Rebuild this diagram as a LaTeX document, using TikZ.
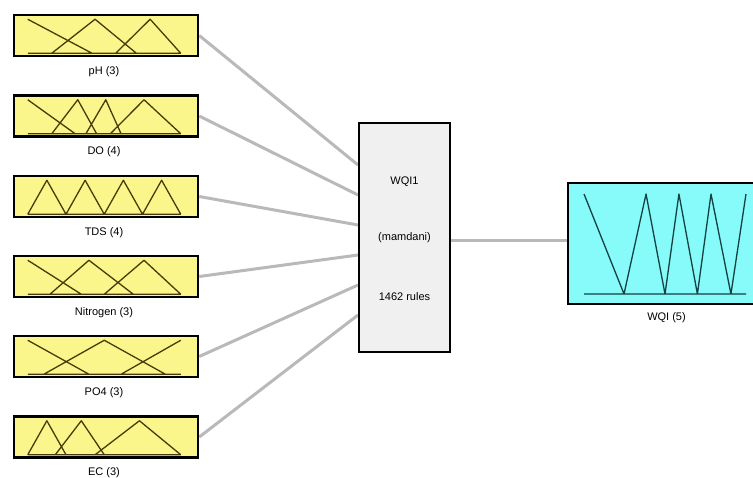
\documentclass[tikz,border=0pt]{standalone}
\usepackage{fontspec}
\setmainfont{Liberation Sans}
\usetikzlibrary{calc,backgrounds}

\definecolor{inyellow}{RGB}{250,246,140}
\definecolor{outcyan}{RGB}{135,250,250}
\definecolor{rulegray}{RGB}{240,240,240}
\definecolor{linkgray}{RGB}{185,185,185}
\definecolor{mfolive}{RGB}{70,60,10}
\definecolor{mfteal}{RGB}{20,65,65}

\tikzset{
  inbox/.style={draw, line width=2.5pt, fill=inyellow, minimum width=184pt, minimum height=41pt, inner sep=0pt},
  outbox/.style={draw, line width=2pt, fill=outcyan, minimum width=189pt, minimum height=121pt, inner sep=0pt},
  rulebox/.style={draw, line width=2pt, fill=rulegray, minimum width=91pt, minimum height=229pt, inner sep=0pt},
  txt/.style={font=\fontsize{11}{13}\selectfont, inner sep=0pt},
  link/.style={draw=linkgray, line width=3pt},
  mf/.style={line width=1.3pt, line join=round},
  mfin/.style={shift={($(#1.south west)+(15,-4)$)}, x=153pt, y=34pt, mf, color=mfolive},
  mfout/.style={shift={($(#1.south west)+(17,-11)$)}, x=162pt, y=100pt, mf, color=mfteal},
}

\begin{document}
\begin{tikzpicture}[x=1pt, y=-1pt]
  \path[use as bounding box, clip] (0,0) rectangle (753,477);

  \foreach \n/\y/\lab in {ph/35.5/pH (3), do/116/DO (4), tds/196.5/TDS (4), nit/276.5/Nitrogen (3), po/356.5/PO4 (3), ec/437/EC (3)}{
    \node[inbox] (\n) at (106,\y) {};
    \node[txt] (\n-lab) at ($(\n.south)+(-2,14)$) {\lab};
  }

  \node[rulebox] (mid) at (404.5,237.5) {};
  \node[txt] (mid-name) at ($(mid.center)+(0,-55.5)$) {WQI1};
  \node[txt] (mid-type) at (mid.center) {(mamdani)};
  \node[txt] (mid-rules) at ($(mid.center)+(0,59.5)$) {1462 rules};

  \node[outbox] (wqi) at (662.5,243.5) {};
  \node[txt] (wqi-lab) at ($(wqi.south)+(4,13)$) {WQI (5)};

  \begin{scope}[mfin=ph]
    \draw (0,0) -- (1,0) (0,1) -- (0.42,0) (0.157,0) -- (0.44,1) -- (0.71,0) (0.575,0) -- (0.8,1) -- (1,0);
  \end{scope}
  \begin{scope}[mfin=do]
    \draw (0,0) -- (1,0) (0,1) -- (0.31,0) (0.157,0) -- (0.327,1) -- (0.45,0) (0.38,0) -- (0.51,1) -- (0.61,0) (0.54,0) -- (0.76,1) -- (1,0);
  \end{scope}
  \begin{scope}[mfin=tds]
    \draw (0,0) -- (1,0) (0,0) -- (0.125,1) -- (0.25,0) -- (0.375,1) -- (0.5,0) -- (0.625,1) -- (0.75,0) -- (0.875,1) -- (1,0);
  \end{scope}
  \begin{scope}[mfin=nit]
    \draw (0,0) -- (1,0) (0,1) -- (0.35,0) (0.145,0) -- (0.4,1) -- (0.69,0) (0.5,0) -- (0.76,1) -- (1,0);
  \end{scope}
  \begin{scope}[mfin=po]
    \draw (0,0) -- (1,0) (0,1) -- (0.4,0) (0.105,0) -- (0.5,1) -- (0.9,0) (0.61,0) -- (1,1);
  \end{scope}
  \begin{scope}[mfin=ec]
    \draw (0,0) -- (1,0) (0,0) -- (0.125,1) -- (0.25,0) (0.18,0) -- (0.35,1) -- (0.5,0) (0.44,0) -- (0.73,1) -- (1,0);
  \end{scope}
  \begin{scope}[mfout=wqi]
    \draw (0,0) -- (1,0) (0,1) -- (0.247,0) -- (0.383,1) -- (0.5,0) -- (0.586,1) -- (0.7,0) -- (0.784,1) -- (0.907,0) -- (1,1);
  \end{scope}

  \coordinate (mid-out) at ($(mid.east)+(0,2.5)$);
  \begin{scope}[on background layer]
    \foreach \n [count=\i] in {ph,do,tds,nit,po,ec}
      \draw[link] (\n.east) -- ($(mid.west)+(0,{(\i-3.5)*30+2.5})$);
    \draw[link] (mid-out) -- (mid-out -| wqi.west);
  \end{scope}
\end{tikzpicture}
\end{document}
